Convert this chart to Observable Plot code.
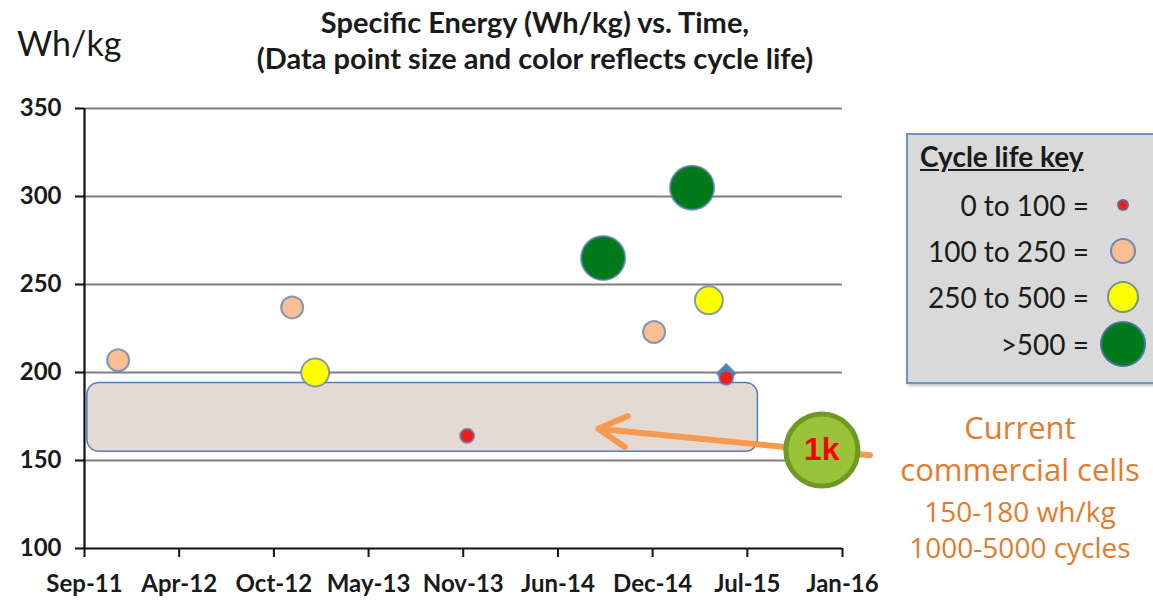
<!DOCTYPE html>
<html>
<head>
<meta charset="utf-8">
<script src="https://cdn.jsdelivr.net/npm/d3@7"></script>
<script src="https://cdn.jsdelivr.net/npm/@observablehq/plot@0.6"></script>
<style>
  html, body { margin: 0; padding: 0; background: #fff; }
  #wrap { position: relative; width: 1153px; height: 606px; overflow: hidden; font-family: Lato, "Open Sans", sans-serif; color: #1a1a1a; }
  #chart { position: absolute; left: 0; top: 0; }
  .title { position: absolute; left: 185px; width: 700px; text-align: center; font-weight: bold; font-size: 29px; line-height: 36px; white-space: nowrap; }
  .unit { position: absolute; left: 17px; top: 22px; font-size: 34px; }
  #legend { position: absolute; left: 906px; top: 133px; width: 260px; height: 247px; background: #d9d9d9; border: 2px solid #7391c2; box-shadow: 2px 2px 3px rgba(0,0,0,0.25); }
  #legend .head { position: absolute; left: 12px; top: 4px; font-weight: bold; font-size: 28px; text-decoration: underline; white-space: nowrap; }
  #legend .row { position: absolute; left: 0; width: 181px; text-align: right; font-size: 28px; white-space: nowrap; transform: translateY(-50%); }
  #legend .swatch { position: absolute; border-radius: 50%; box-sizing: border-box; border: 2px solid rgba(80,120,180,0.8); }
  .note { position: absolute; left: 860px; width: 320px; text-align: center; color: #e47b2c; font-family: "Open Sans", Lato, sans-serif; white-space: nowrap; }
</style>
</head>
<body>
<div id="wrap">
  <div id="chart"></div>
  <div class="unit">Wh/kg</div>
  <div class="title" style="top:4px">Specific Energy (Wh/kg) vs. Time,</div>
  <div class="title" style="top:40px">(Data point size and color reflects cycle life)</div>
  <div id="legend"><div class="head">Cycle life key</div></div>
  <div class="note" style="top:406px;font-size:31px">Current</div>
  <div class="note" style="top:448px;font-size:31px">commercial cells</div>
  <div class="note" style="top:492px;font-size:28px">150-180 wh/kg</div>
  <div class="note" style="top:528px;font-size:28px">1000-5000 cycles</div>
</div>
<script>
// Cells: report date, specific energy (Wh/kg) and cycle-life class
const reportDates = ["2011-12-04", "2012-11-30", "2013-01-17", "2013-11-29", "2014-09-08", "2015-03-12", "2015-04-16", "2014-12-23", "2015-05-22"];
const specificEnergy = [207, 237, 200, 164, 265, 305, 241, 223, 197];
const cycleLife = ["100 to 250", "100 to 250", "250 to 500", "0 to 100", ">500", ">500", "250 to 500", "100 to 250", "0 to 100"];

// A single reference marker sitting under the last red point
const markerDate = ["2015-05-22"];
const markerValue = [199.5];

// Cycle-life classes as shown in the key
const cycleClasses = ["0 to 100", "100 to 250", "250 to 500", ">500"];

// Axis ticks
const dateTicks = ["2011-09-25", "2012-04-09", "2012-10-23", "2013-05-08", "2013-11-21", "2014-06-06", "2014-12-20", "2015-07-05", "2016-01-19"];
const energyTicks = [100, 150, 200, 250, 300, 350];
const gridTicks = [150, 200, 250, 300, 350];

// Shaded band for current commercial cells and its callout
const bandDates = ["2011-10-01", "2015-07-27"];
const bandEnergy = [155, 194];
const calloutFrom = {date: "2016-03-16", value: 153};
const calloutTo = {date: "2014-08-29", value: 168};
const badge = {date: "2015-12-07", value: 156, label: "1k"};

// Styling for each class
const classColor = {"0 to 100": "#f01c1c", "100 to 250": "#f9be92", "250 to 500": "#ffff00", ">500": "#007a1a"};
const classRadius = {"0 to 100": 7, "100 to 250": 11, "250 to 500": 14, ">500": 22};

const day = s => new Date(s + "T00:00:00Z");

const cells = reportDates.map((d, i) => ({date: day(d), energy: specificEnergy[i], cycle: cycleLife[i]}));
// draw larger dots first so small ones stay visible
const order = {"0 to 100": 3, "100 to 250": 2, "250 to 500": 1, ">500": 0};
cells.sort((a, b) => order[a.cycle] - order[b.cycle]);

const plot = Plot.plot({
  width: 1153,
  height: 606,
  marginLeft: 84,
  marginRight: 311,
  marginTop: 108,
  marginBottom: 58,
  style: {fontFamily: "Lato, sans-serif", fontSize: "21px", fontWeight: "bold", color: "#1a1a1a", background: "transparent", overflow: "visible"},
  x: {type: "utc", domain: [day(dateTicks[0]), day(dateTicks[dateTicks.length - 1])]},
  y: {domain: [100, 350]},
  color: {domain: cycleClasses, range: cycleClasses.map(c => classColor[c])},
  r: {type: "identity"},
  marks: [
    Plot.gridY(gridTicks, {stroke: "#808080", strokeOpacity: 1, strokeWidth: 2.2}),
    Plot.rect([0], {
      x1: () => day(bandDates[0]), x2: () => day(bandDates[1]),
      y1: () => bandEnergy[0], y2: () => bandEnergy[1],
      fill: "#e5dad1", stroke: "#4f7fbf", strokeWidth: 1.5, rx: 12
    }),
    Plot.ruleY([100], {stroke: "#111", strokeWidth: 2.2}),
    Plot.ruleX([day(dateTicks[0])], {stroke: "#111", strokeWidth: 2.2}),
    Plot.axisY(energyTicks, {tickSize: 9, tickPadding: 14, label: null, stroke: "#111", strokeWidth: 2, fontSize: 24}),
    Plot.axisX(dateTicks.map(day), {tickSize: 9, tickPadding: 17, label: null, tickFormat: d3.utcFormat("%b-%y"), stroke: "#111", strokeWidth: 2, fontSize: 24}),
    Plot.dot(markerDate.map((d, i) => ({date: day(d), v: markerValue[i]})), {
      x: "date", y: "v", symbol: "diamond2", r: 9, fill: "#4f81bd", stroke: "#6b8fcf", strokeWidth: 1
    }),
    Plot.dot(cells, {
      x: "date", y: "energy", fill: "cycle", r: d => classRadius[d.cycle],
      stroke: "#5b7fb5", strokeOpacity: 0.75, strokeWidth: 2
    }),
    Plot.arrow([0], {
      x1: () => day(calloutFrom.date), y1: () => calloutFrom.value,
      x2: () => day(calloutTo.date), y2: () => calloutTo.value,
      stroke: "#f59a50", strokeWidth: 6, headLength: 8, headAngle: 58, bend: 0
    }),
    Plot.dot([badge], {
      x: d => day(d.date), y: "value", r: 36, fill: "#99c43a", stroke: "#6e9a22", strokeWidth: 5
    }),
    Plot.text([badge], {
      x: d => day(d.date), y: "value", text: "label", fill: "#ff0000", fontSize: 32, fontWeight: "bold",
      fontFamily: "Liberation Sans, Arial, sans-serif"
    })
  ]
});
document.getElementById("chart").appendChild(plot);

// Key: one row per cycle-life class
const legend = document.getElementById("legend");
const rowTop = [70, 116, 162, 209];
const swatchX = 215;
cycleClasses.forEach((c, i) => {
  const row = document.createElement("div");
  row.className = "row";
  row.style.top = rowTop[i] + "px";
  row.textContent = c + " =";
  legend.appendChild(row);
  const r = c === "0 to 100" ? 6 : classRadius[c] + (c === ">500" ? 1 : 2);
  const sw = document.createElement("div");
  sw.className = "swatch";
  sw.style.left = (swatchX - r) + "px";
  sw.style.top = (rowTop[i] - r) + "px";
  sw.style.width = sw.style.height = (2 * r) + "px";
  sw.style.background = classColor[c];
  legend.appendChild(sw);
});
</script>
</body>
</html>
